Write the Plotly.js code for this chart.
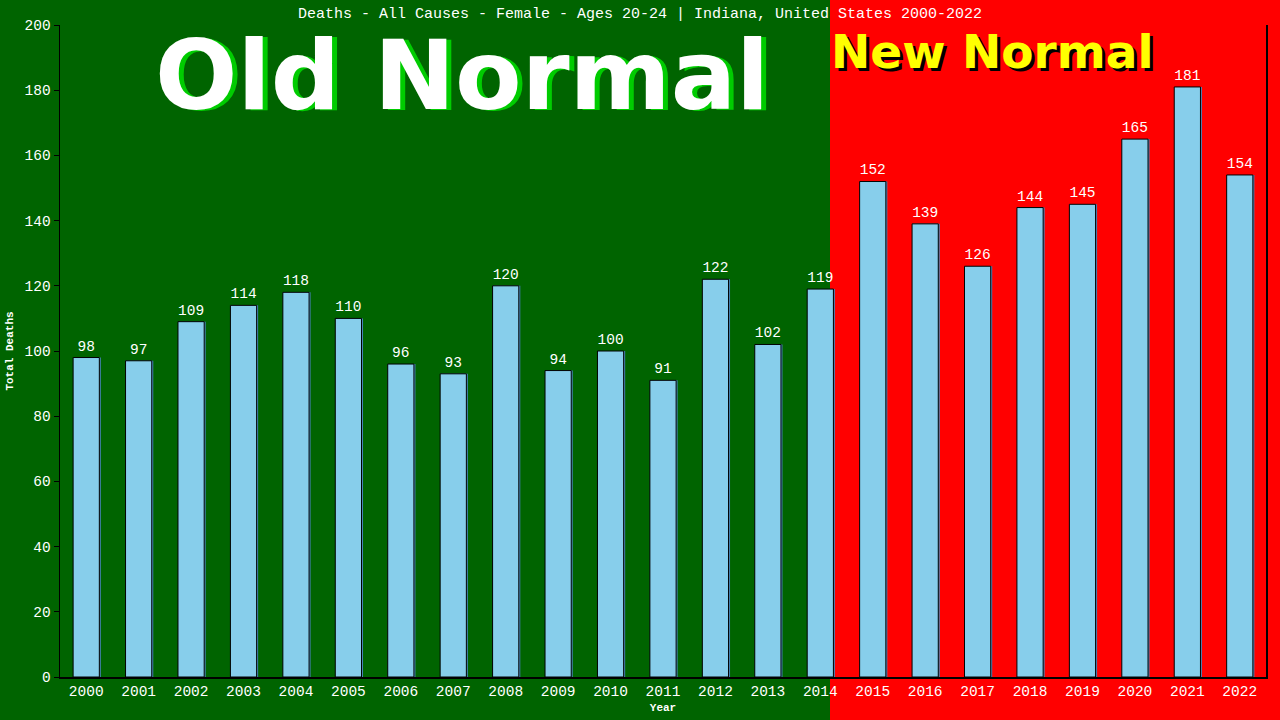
<!DOCTYPE html>
<html>
<head>
<meta charset="utf-8">
<script src="https://cdn.plot.ly/plotly-3.0.1.min.js"></script>
<style>
  html, body { margin: 0; padding: 0; background: #006400; }
  #chart { width: 1280px; height: 720px; }
</style>
</head>
<body>
<div id="chart"></div>
<script>
const years = ['2000','2001','2002','2003','2004','2005','2006','2007','2008','2009','2010',
               '2011','2012','2013','2014','2015','2016','2017','2018','2019','2020','2021','2022'];
const deaths = [98, 97, 109, 114, 118, 110, 96, 93, 120, 94, 100,
                91, 122, 102, 119, 152, 139, 126, 144, 145, 165, 181, 154];
const yTicks = [0, 20, 40, 60, 80, 100, 120, 140, 160, 180, 200];

const W = 1280, H = 720;
const M = {l: 60, r: 14, t: 25, b: 43};
// pixel -> paper helpers for the overlay text and background split
function px(x) { return (x - M.l) / (W - M.l - M.r); }
function py(y) { return (H - M.b - y) / (H - M.t - M.b); }

const mono = 'Liberation Mono, DejaVu Sans Mono, monospace';
const catPx = (W - M.l - M.r) / years.length;

let data = [
    // thin steelblue shadow just right of each bar
    {
        type: 'bar', x: years, y: deaths,
        width: 0.5, offset: -0.25 + 1.5 / catPx,
        marker: {color: '#4682b4', line: {width: 0}},
        hoverinfo: 'skip'
    },
    {
        type: 'bar', x: years, y: deaths,
        width: 0.5, offset: -0.25,
        text: deaths.map(String),
        textposition: 'outside',
        cliponaxis: false,
        textfont: {family: mono, size: 14.5, color: '#ffffff'},
        marker: {color: '#87ceeb', line: {color: '#000000', width: 1}},
        hoverinfo: 'skip'
    }
];

function label(text, x, y, size, color, shadow) {
    return {
        text: text, xref: 'paper', yref: 'paper',
        x: px(x), y: py(y),
        xanchor: 'center', yanchor: 'middle', showarrow: false,
        font: {family: 'DejaVu Sans, Verdana, sans-serif', size: size, color: color, shadow: shadow}
    };
}

let layout = {
    width: W,
    height: H,
    margin: M,
    paper_bgcolor: '#006400',
    plot_bgcolor: 'rgba(0,0,0,0)',
    showlegend: false,
    barmode: 'overlay',
    title: {
        text: 'Deaths - All Causes - Female - Ages 20-24 | Indiana, United States 2000-2022',
        font: {family: mono, size: 15, color: '#ffffff'},
        x: 0.5, xanchor: 'center', y: 0.982, yanchor: 'middle'
    },
    xaxis: {
        type: 'category',
        showline: true, linecolor: '#000000', linewidth: 1.5,
        ticks: '', showgrid: false,
        tickfont: {family: mono, size: 14.5, color: '#ffffff'},
        title: {text: '<b>Year</b>', font: {family: mono, size: 11, color: '#ffffff'}, standoff: 4}
    },
    yaxis: {
        range: [0, 200],
        tickvals: yTicks,
        showline: true, linecolor: '#000000', linewidth: 1.5, mirror: true,
        ticks: 'outside', ticklen: 5, tickcolor: '#000000',
        showgrid: false, zeroline: false,
        tickfont: {family: mono, size: 14.5, color: '#ffffff'},
        title: {text: '<b>Total Deaths</b>', font: {family: mono, size: 11, color: '#ffffff'}, standoff: 8}
    },
    shapes: [{
        type: 'rect', xref: 'paper', yref: 'paper', layer: 'below',
        x0: px(830), x1: px(1300), y0: py(740), y1: py(-20),
        fillcolor: '#ff0000', line: {width: 0}
    }],
    annotations: [
        label('<b>Old Normal</b>', 462, 75, 97, '#ffffff', '5px 1px 0px #00cc00'),
        label('<b>New Normal</b>', 992, 52, 47, '#ffff00', '3px 3px 0px #000000')
    ]
};

Plotly.newPlot('chart', data, layout, {staticPlot: true});
</script>
</body>
</html>
